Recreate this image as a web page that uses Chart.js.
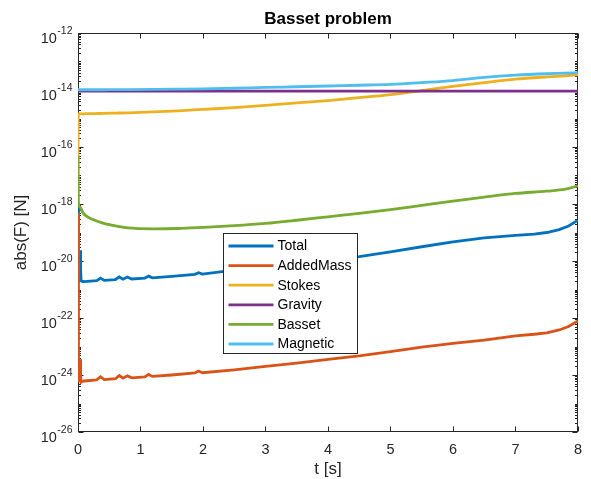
<!DOCTYPE html>
<html><head><meta charset="utf-8">
<script src="https://cdn.jsdelivr.net/npm/chart.js@4.4.0/dist/chart.umd.min.js"></script>
<style>html,body{margin:0;padding:0;background:#fff;}</style>
</head><body>
<canvas id="c" width="591" height="479"></canvas>
<script>
// ---- data ----
const seriesNames = ['Total','AddedMass','Stokes','Gravity','Basset','Magnetic'];
const seriesColors = ['#0072BD','#D95319','#EDB120','#7E2F8E','#77AC30','#4DBEEE'];

const tSmooth = [0,0.005,0.03,0.08,0.13,0.21,0.4,0.6,0.8,1.2,1.6,2,2.5,3,3.5,4,4.5,5,5.5,6,6.5,7,7.5,7.8,8];
const stokes = [1e-18,1.445e-15,1.445e-15,1.445e-15,1.479e-15,1.479e-15,1.514e-15,1.549e-15,1.585e-15,1.698e-15,1.862e-15,2.089e-15,2.399e-15,2.884e-15,3.548e-15,4.266e-15,5.370e-15,6.918e-15,9.550e-15,1.349e-14,1.820e-14,2.399e-14,2.884e-14,3.162e-14,3.388e-14];
const gravity = [9.2e-15,9.2e-15,9.2e-15,9.2e-15,9.2e-15,9.2e-15,9.2e-15,9.2e-15,9.2e-15,9.2e-15,9.2e-15,9.2e-15,9.2e-15,9.2e-15,9.2e-15,9.2e-15,9.2e-15,9.2e-15,9.2e-15,9.2e-15,9.2e-15,9.2e-15,9.2e-15,9.2e-15,9.2e-15];
const basset = [5.012e-17,1.259e-18,7.943e-19,4.898e-19,3.802e-19,3.020e-19,2.138e-19,1.698e-19,1.445e-19,1.349e-19,1.380e-19,1.514e-19,1.738e-19,2.089e-19,2.692e-19,3.548e-19,4.677e-19,6.310e-19,8.913e-19,1.259e-18,1.738e-18,2.344e-18,2.818e-18,3.311e-18,4.365e-18];
const magnetic = [1.02e-14,1.02e-14,1.02e-14,1.02e-14,1.02e-14,1.02e-14,1.02e-14,1.03e-14,1.035e-14,1.05e-14,1.07e-14,1.096e-14,1.15e-14,1.23e-14,1.30e-14,1.38e-14,1.47e-14,1.585e-14,1.82e-14,2.138e-14,2.754e-14,3.311e-14,3.715e-14,3.89e-14,4.074e-14];

const tNoisy = [0,0.008,0.02,0.035,0.042,0.05,0.07,0.1,0.3,0.36,0.42,0.6,0.66,0.72,0.79,0.86,1.07,1.13,1.19,1.5,1.87,1.93,1.99,2.5,3,3.5,4,4.5,5,5.5,6,6.5,7,7.3,7.5,7.7,7.85,8];
const total = [1e-18,7.943e-21,1.995e-21,2.399e-20,5.012e-21,1.995e-21,1.905e-21,1.905e-21,2.042e-21,2.512e-21,2.089e-21,2.239e-21,2.754e-21,2.291e-21,2.754e-21,2.344e-21,2.512e-21,2.951e-21,2.570e-21,2.884e-21,3.388e-21,3.890e-21,3.467e-21,4.786e-21,6.310e-21,8.318e-21,1.072e-20,1.413e-20,2.089e-20,3.162e-20,4.677e-20,6.457e-20,7.943e-20,8.710e-20,1.0e-19,1.259e-19,1.698e-19,2.692e-19];
const addedMass = [4.786e-19,1.585e-24,5.623e-25,3.548e-24,1e-24,5.623e-25,6.026e-25,6.166e-25,6.761e-25,8.710e-25,6.918e-25,7.413e-25,9.550e-25,7.762e-25,9.333e-25,7.943e-25,8.511e-25,1.047e-24,8.913e-25,1.0e-24,1.175e-24,1.380e-24,1.202e-24,1.514e-24,1.995e-24,2.630e-24,3.548e-24,4.677e-24,6.607e-24,9.550e-24,1.288e-23,1.660e-23,2.344e-23,2.692e-23,3.020e-23,3.802e-23,5.012e-23,7.943e-23];

const xTicks = [0,1,2,3,4,5,6,7,8];
const yTickExponents = [-26,-24,-22,-20,-18,-16,-14,-12];

// ---- helpers ----
const FONT = '"Liberation Sans", Arial, Helvetica, sans-serif';
const pts = (ts, vs) => ts.map((t, i) => ({x: t, y: vs[i]}));

const seriesData = [pts(tNoisy,total), pts(tNoisy,addedMass), pts(tSmooth,stokes), pts(tSmooth,gravity), pts(tSmooth,basset), pts(tSmooth,magnetic)];
const smooth = [false,false,true,true,true,true];

const datasets = seriesNames.map((name, i) => ({
  label: name,
  data: seriesData[i],
  borderColor: seriesColors[i],
  backgroundColor: seriesColors[i],
  borderWidth: 2.8,
  pointRadius: 0,
  fill: false,
  cubicInterpolationMode: smooth[i] ? 'monotone' : 'default',
  tension: 0,
  order: seriesNames.length - i
}));

const axesPlugin = {
  id: 'matlabAxes',
  beforeDatasetsDraw(chart) {
    const {ctx, chartArea: a, scales: {x, y}} = chart;
    ctx.save();
    ctx.strokeStyle = '#262626';
    ctx.lineWidth = 1;
    const L = a.left + 0.5, R = a.right - 0.5, T = a.top + 0.5, B = a.bottom - 0.5;
    ctx.strokeRect(L, T, R - L, B - T);
    ctx.beginPath();
    xTicks.forEach(v => {
      const px = Math.round(x.getPixelForValue(v)) + 0.5;
      ctx.moveTo(px, B); ctx.lineTo(px, B - 5);
      ctx.moveTo(px, T); ctx.lineTo(px, T + 5);
    });
    for (let e = -26; e <= -12; e++) {
      for (let m = 1; m < 10; m++) {
        if (e === -12 && m > 1) break;
        const py = Math.round(y.getPixelForValue(m * Math.pow(10, e))) + 0.5;
        const len = (m === 1 && yTickExponents.includes(e)) ? 5 : 2.5;
        ctx.moveTo(L, py); ctx.lineTo(L + len, py);
        ctx.moveTo(R, py); ctx.lineTo(R - len, py);
      }
    }
    ctx.stroke();
    // y tick labels: base "10" with raised exponent
    ctx.fillStyle = '#262626';
    ctx.textBaseline = 'alphabetic';
    ctx.textAlign = 'right';
    const xr = a.left - 5.5;
    yTickExponents.forEach(e => {
      const py = y.getPixelForValue(Math.pow(10, e));
      const expText = String(e);
      ctx.font = '10.5px ' + FONT;
      const ew = ctx.measureText(expText).width;
      ctx.fillText(expText, xr, py + 0.5);
      ctx.font = '14.5px ' + FONT;
      ctx.fillText('10', xr - ew - 0.5, py + 9.5);
    });
    ctx.restore();
  },
  afterDatasetsDraw(chart) {
    const {ctx, chartArea: a} = chart;
    const bx = a.left + 145.5, by = a.top + 200.5, bw = 134, bh = 120;
    ctx.save();
    ctx.fillStyle = '#fff';
    ctx.fillRect(bx, by, bw, bh);
    ctx.strokeStyle = '#262626';
    ctx.lineWidth = 1;
    ctx.strokeRect(bx, by, bw, bh);
    ctx.font = '14px ' + FONT;
    ctx.textBaseline = 'middle';
    ctx.textAlign = 'left';
    chart.data.datasets.forEach((ds, i) => {
      const yy = by + 12.5 + i * 19.6;
      ctx.strokeStyle = ds.borderColor;
      ctx.lineWidth = 2.8;
      ctx.beginPath();
      ctx.moveTo(bx + 5, yy); ctx.lineTo(bx + 50, yy);
      ctx.stroke();
      ctx.fillStyle = '#000';
      ctx.fillText(ds.label, bx + 54, yy + 0.5);
    });
    ctx.restore();
  }
};

new Chart(document.getElementById('c'), {
  type: 'line',
  data: {datasets},
  plugins: [axesPlugin],
  options: {
    responsive: false,
    devicePixelRatio: 1,
    animation: false,
    events: [],
    layout: {padding: {left: 0, right: 10, top: 0, bottom: 0}},
    plugins: {
      legend: {display: false},
      tooltip: {enabled: false},
      title: {
        display: true,
        fullSize: false,
        text: 'Basset problem',
        color: '#000',
        font: {family: FONT, size: 17, weight: 'bold', lineHeight: 1.2},
        padding: {top: 9.5, bottom: 3.1}
      }
    },
    scales: {
      x: {
        type: 'linear',
        min: 0, max: 8,
        afterBuildTicks: s => { s.ticks = xTicks.map(v => ({value: v})); },
        afterFit: s => { s.height = 47; },
        grid: {display: false, drawTicks: false},
        border: {display: false},
        ticks: {color: '#262626', font: {family: FONT, size: 14.5}, padding: 9, maxRotation: 0,
                callback: v => String(v)},
        title: {display: true, text: 't [s]', color: '#262626',
                font: {family: FONT, size: 17, lineHeight: 1.2}, padding: {top: 0, bottom: -1}}
      },
      y: {
        type: 'logarithmic',
        min: 1e-26, max: 1e-12,
        afterBuildTicks: s => { s.ticks = yTickExponents.map(e => ({value: Math.pow(10, e)})); },
        afterFit: s => { s.width = 78; },
        grid: {display: false, drawTicks: false},
        border: {display: false},
        ticks: {display: false},
        title: {display: true, text: 'abs(F) [N]', color: '#262626',
                font: {family: FONT, size: 17, lineHeight: 1.2}, padding: {top: 11, bottom: 0}}
      }
    }
  }
});
</script>
</body></html>
